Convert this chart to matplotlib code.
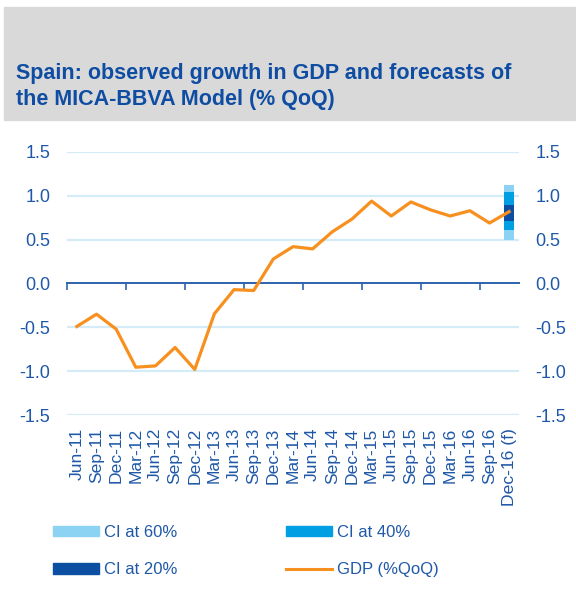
import matplotlib
matplotlib.use("Agg")
import matplotlib.pyplot as plt
from matplotlib.patches import Patch, Rectangle
from matplotlib.lines import Line2D

plt.rcParams['font.family'] = ['Liberation Sans', 'DejaVu Sans']

# data
quarters = ['Jun-11', 'Sep-11', 'Dec-11', 'Mar-12', 'Jun-12', 'Sep-12', 'Dec-12',
            'Mar-13', 'Jun-13', 'Sep-13', 'Dec-13', 'Mar-14', 'Jun-14', 'Sep-14',
            'Dec-14', 'Mar-15', 'Jun-15', 'Sep-15', 'Dec-15', 'Mar-16', 'Jun-16',
            'Sep-16', 'Dec-16 (f)']
gdp = [-0.49, -0.35, -0.52, -0.955, -0.94, -0.73, -0.98, -0.345, -0.07, -0.08,
       0.28, 0.42, 0.395, 0.59, 0.735, 0.94, 0.77, 0.93, 0.84, 0.77, 0.83, 0.69, 0.82]
ci_labels = ['CI at 60%', 'CI at 40%', 'CI at 20%']
ci_low = [0.50, 0.614, 0.716]
ci_high = [1.125, 1.045, 0.898]

TEXT = '#1F58A8'
TITLE = '#0F4DA2'
ORANGE = '#F7901E'
CI_COLORS = ['#8CD2F2', '#009FE3', '#0B4EA2']
GRID = '#D4ECF8'
ZERO = '#2D63AE'

fig = plt.figure(figsize=(5.76, 5.94), dpi=100)

# grey title band
fig.patches.append(Rectangle((4 / 576, 1 - 120 / 594), 1, 113 / 594,
                             transform=fig.transFigure, color='#D9D9D9', zorder=0))
fig.text(16 / 576, 1 - 63 / 594,
         'Spain: observed growth in GDP and forecasts of\nthe MICA-BBVA Model (% QoQ)',
         color=TITLE, fontsize=15.5, fontweight='bold', va='top', ha='left',
         linespacing=1.32)

ax = fig.add_axes([67 / 576, 1 - 415 / 594, 452 / 576, 263 / 594])
x = list(range(len(quarters)))

for yv in [-1.5, -1.0, -0.5, 0.5, 1.0, 1.5]:
    ax.axhline(yv, color=GRID, lw=1.6, zorder=0)

last = len(quarters) - 1
for lo, hi, c in zip(ci_low, ci_high, CI_COLORS):
    ax.bar(last, hi - lo, bottom=lo, width=0.52, color=c, zorder=2)

ax.plot(x, gdp, color=ORANGE, lw=2.3, zorder=3)

ax.set_xlim(-0.5, len(quarters) - 0.5)
ax.set_ylim(-1.5, 1.5)
ax.set_yticks([-1.5, -1.0, -0.5, 0.0, 0.5, 1.0, 1.5])
ax.set_yticklabels(['%.1f' % v for v in [-1.5, -1.0, -0.5, 0.0, 0.5, 1.0, 1.5]])
ax.set_xticks(x)
ax.set_xticklabels(quarters, rotation=90)
ax.tick_params(axis='y', length=0, pad=12, labelsize=13, labelcolor=TEXT,
               labelright=True)
ax.tick_params(axis='x', length=0, pad=9, labelsize=12.6, labelcolor=TEXT)
for s in ax.spines.values():
    s.set_visible(False)

# zero line with tick marks every three quarters
zax = ax.secondary_xaxis(0.5)
zax.set_xticks([i - 0.5 for i in range(0, len(quarters) + 1, 3)])
zax.set_xticklabels([])
zax.tick_params(length=5, width=1.2, color=ZERO, direction='in')
for s in zax.spines.values():
    s.set_color(ZERO)
    s.set_linewidth(1.4)

handles = [Patch(color=CI_COLORS[0], label=ci_labels[0]),
           Patch(color=CI_COLORS[2], label=ci_labels[2]),
           Patch(color=CI_COLORS[1], label=ci_labels[1]),
           Line2D([], [], color=ORANGE, lw=2.2, label='GDP (%QoQ)')]
leg = fig.legend(handles=handles, ncol=2, loc='upper left',
                 bbox_to_anchor=(53 / 576, 1 - 525 / 594), frameon=False,
                 borderpad=0, borderaxespad=0,
                 fontsize=12, handlelength=2.76, handleheight=0.6,
                 handletextpad=0.3, columnspacing=6.5, labelspacing=1.33)
for t in leg.get_texts():
    t.set_color(TEXT)

fig.savefig('out.png', dpi=100)
